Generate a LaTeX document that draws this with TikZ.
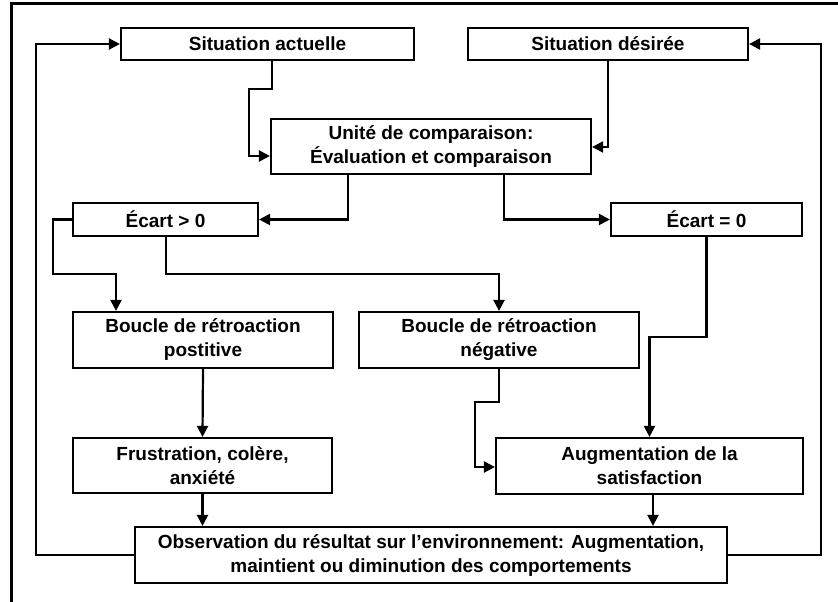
\documentclass[tikz,border=0pt]{standalone}
\usepackage{fontspec}
\setmainfont{Liberation Sans}
\usetikzlibrary{arrows.meta,calc}

\newcommand{\trait}{2.2pt}   % boxes and connectors
\newcommand{\cadre}{3pt}     % outer frame

\tikzset{
  bloc/.style={draw, line width=\trait, align=center, inner sep=0pt,
    font=\fontsize{19}{24}\selectfont\bfseries},
  fleche/.style={line width=\trait, -{Triangle[length=11pt,width=11pt]}},
}

\begin{document}
\begin{tikzpicture}[x=1pt,y=-1pt]
  \useasboundingbox (0,0) rectangle (838,602);
  \draw[line width=\cadre] (838,4) -- (11,4) -- (11,602);
%
  \node[bloc, minimum width=293, minimum height=32] (sa) at (267.5,44) {Situation actuelle};
  \node[bloc, minimum width=280, minimum height=32] (sd) at (608,44) {Situation désirée};
  \node[bloc, minimum width=320, minimum height=55] (uc) at (431,146.5) {Unité de comparaison:\\Évaluation et comparaison};
  \node[bloc, minimum width=185, minimum height=33] (ep) at (165.5,219.5) {Écart > 0};
  \node[bloc, minimum width=191, minimum height=33] (ez) at (706.5,219.5) {Écart = 0};
  \node[bloc, minimum width=260, minimum height=56] (bp) at (203,340) {Boucle de rétroaction\\postitive};
  \node[bloc, minimum width=280, minimum height=56] (bn) at (499,340) {Boucle de rétroaction\\négative};
  \node[bloc, minimum width=259, minimum height=55] (fr) at (202.5,465.5) {Frustration, colère,\\anxiété};
  \node[bloc, minimum width=307, minimum height=56] (au) at (649.5,466) {Augmentation de la\\satisfaction};
  \node[bloc, minimum width=592, minimum height=56] (ob) at (431,555) {Observation du résultat sur l’environnement: Augmentation,\\maintient ou diminution des comportements};
%
  % towards the comparison unit
  \draw[fleche] ($(sa.south)+(4.5,0)$) |- (249,89) |- ($(uc.west)+(0,9.5)$);
  \draw[fleche] (sd.south) |- ($(uc.east)+(0,0.5)$);
  \draw[fleche] ($(uc.south)+(-83,0)$) |- (ep.east);
  \draw[fleche] ($(uc.south)+(73,0)$) |- (ez.west);
  % feedback loops
  \draw[fleche] (ep.west) -| (53,274) -| ($(bp.north)+(-87,0)$);
  \draw[fleche] ($(ep.south)+(0.5,0)$) |- (499,274) -- (bn.north);
  \draw[fleche] (ez.south) |- ($(au.north)+(0,-100)$) -- (au.north);
  \draw[fleche] (bn.south) |- (475,402) |- ($(au.west)+(0,1)$);
  \draw[fleche] (bp.south) -- (fr.north);
  \draw[fleche] (fr.south) -- (fr.south |- ob.north);
  \draw[fleche] ($(au.south)+(3.5,0)$) -- ($(au.south |- ob.north)+(3.5,0)$);
  % back to the situations
  \draw[fleche] (ob.west) -| ($(sa.west)+(-84,0)$) -- (sa.west);
  \draw[fleche] (ob.east) -| ($(sd.east)+(72,0)$) -- (sd.east);
\end{tikzpicture}
\end{document}
